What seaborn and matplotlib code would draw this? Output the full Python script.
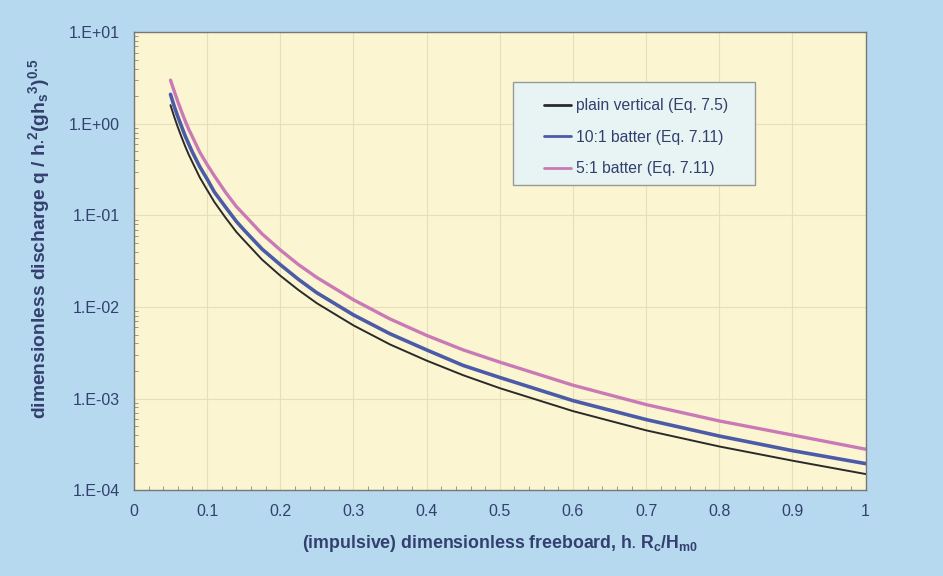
import numpy as np
import pandas as pd
import matplotlib
matplotlib.use('Agg')
import matplotlib.pyplot as plt
import matplotlib.ticker as mticker
from matplotlib.patches import Rectangle
import seaborn as sns

# Werte
freeboard = [0.05, 0.055, 0.06, 0.065, 0.07, 0.075, 0.08, 0.09, 0.10, 0.11, 0.125, 0.14,
             0.15, 0.175, 0.20, 0.225, 0.25, 0.30, 0.35, 0.40, 0.45, 0.50, 0.60, 0.70,
             0.80, 0.90, 1.00]
plain_vertical = [1.6, 1.2, 0.92, 0.72, 0.57, 0.46, 0.38, 0.26, 0.19, 0.14, 0.095, 0.066,
                  0.054, 0.033, 0.022, 0.0153, 0.011, 0.0063, 0.0039, 0.0026, 0.0018, 0.0013,
                  0.00073, 0.00045, 0.00030, 0.00021, 0.00015]
batter_10_1 = [2.1, 1.56, 1.2, 0.94, 0.74, 0.60, 0.49, 0.34, 0.25, 0.18, 0.124, 0.086,
               0.070, 0.043, 0.029, 0.020, 0.0143, 0.0082, 0.0051, 0.0034, 0.0023, 0.0017,
               0.00095, 0.00059, 0.00039, 0.00027, 0.000195]
batter_5_1 = [3.0, 2.28, 1.75, 1.37, 1.08, 0.87, 0.72, 0.49, 0.36, 0.27, 0.18, 0.125,
              0.103, 0.063, 0.042, 0.029, 0.021, 0.012, 0.0074, 0.0049, 0.0034, 0.0025,
              0.0014, 0.00086, 0.00057, 0.00040, 0.00028]
series_names = ['plain vertical (Eq. 7.5)', '10:1 batter (Eq. 7.11)', '5:1 batter (Eq. 7.11)']
x_ticklabels = ['0', '0.1', '0.2', '0.3', '0.4', '0.5', '0.6', '0.7', '0.8', '0.9', '1']
y_ticklabels = ['1.E-04', '1.E-03', '1.E-02', '1.E-01', '1.E+00', '1.E+01']

df = pd.DataFrame({
    'x': freeboard * 3,
    'q': plain_vertical + batter_10_1 + batter_5_1,
    'serie': [n for n in series_names for _ in freeboard],
})

sns.set_style('ticks')
plt.rcParams['font.family'] = ['Liberation Sans', 'DejaVu Sans']
plt.rcParams['mathtext.default'] = 'regular'

txt = '#33406e'

fig = plt.figure(figsize=(9.43, 5.76), dpi=100, facecolor='#b6d9ef')
ax = fig.add_axes([0.142, 0.149, 0.776, 0.795])
ax.set_facecolor('#fbf6d1')

farben = {series_names[0]: '#2a2a2a', series_names[1]: '#4b5ba8', series_names[2]: '#c97ab6'}
breiten = {series_names[0]: 1.4, series_names[1]: 2.6, series_names[2]: 2.4}
for name in series_names:
    sns.lineplot(data=df[df['serie'] == name], x='x', y='q', ax=ax,
                 color=farben[name], lw=breiten[name], label=name)

ax.set_yscale('log')
ax.set_xlim(0, 1)
ax.set_ylim(1e-4, 10)
ax.set_xticks(np.arange(0, 1.01, 0.1))
ax.set_xticklabels(x_ticklabels, fontsize=11.5)
ax.xaxis.set_minor_locator(mticker.MultipleLocator(0.02))
ax.set_yticks([1e-4, 1e-3, 1e-2, 1e-1, 1, 10])
ax.set_yticklabels(y_ticklabels, fontsize=11.5)
ax.yaxis.set_minor_locator(mticker.LogLocator(subs=np.arange(2, 10)))
ax.yaxis.set_minor_formatter(mticker.NullFormatter())

ax.grid(True, which='major', color='#e6e0b8', lw=0.8)
ax.tick_params(axis='both', which='major', direction='in', length=0,
               labelcolor=txt, pad=10)
ax.tick_params(axis='both', which='minor', direction='in', length=3, color='#888888')
for s in ax.spines.values():
    s.set_color('#777777')
    s.set_linewidth(1.0)

ax.set_xlabel(r'(impulsive) dimensionless freeboard, h$_{\bullet}$ R$_c$/H$_{m0}$',
              fontsize=12.8, fontweight='bold', color=txt, labelpad=10)
ax.set_ylabel(r'dimensionless discharge q / h$_{\bullet}$$^2$(gh$_s$$^3$)$^{0.5}$',
              fontsize=13.9, fontweight='bold', color=txt)
ax.yaxis.set_label_coords(-0.112, 0.55)

# Legendenkasten
ax.add_patch(Rectangle((0.518, 0.666), 0.331, 0.225, transform=ax.transAxes,
                       facecolor='#e7f4f3', edgecolor='#999999', lw=1, zorder=4))
leg = ax.legend(loc='center', bbox_to_anchor=(0.6865, 0.771), frameon=False,
                fontsize=11.3, labelspacing=1.05, handlelength=1.7, handletextpad=0.35,
                borderpad=0, borderaxespad=0)
leg.set_zorder(5)
for t in leg.get_texts():
    t.set_color(txt)
for h in leg.get_lines():
    h.set_linewidth(2)

fig.savefig('out.png', dpi=100, facecolor=fig.get_facecolor())
